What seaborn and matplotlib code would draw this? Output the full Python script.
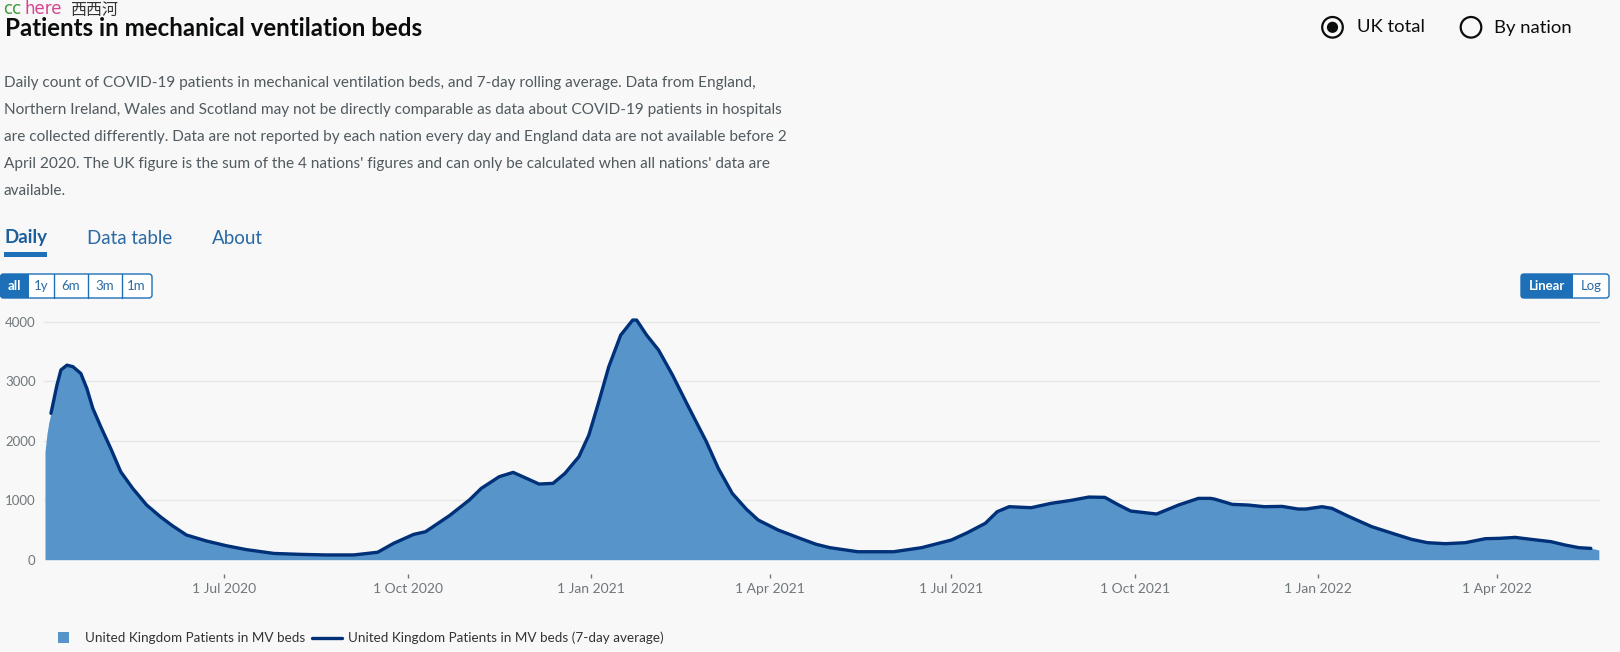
import matplotlib
matplotlib.use("Agg")
import matplotlib.pyplot as plt
from matplotlib.patches import Circle, Rectangle, FancyBboxPatch
from matplotlib.lines import Line2D
import seaborn as sns
import pandas as pd

# ---------------- data ----------------
avg_dates = [
    "2020-04-05", "2020-04-08", "2020-04-10", "2020-04-13", "2020-04-16", "2020-04-20",
    "2020-04-23", "2020-04-26", "2020-04-30", "2020-05-05", "2020-05-10", "2020-05-16",
    "2020-05-23", "2020-05-30", "2020-06-05", "2020-06-12", "2020-06-22", "2020-07-02",
    "2020-07-12", "2020-07-26", "2020-08-08", "2020-08-21", "2020-09-04", "2020-09-16",
    "2020-09-24", "2020-10-04", "2020-10-10", "2020-10-22", "2020-11-01", "2020-11-07",
    "2020-11-16", "2020-11-23", "2020-11-29", "2020-12-06", "2020-12-13", "2020-12-19",
    "2020-12-26", "2020-12-31", "2021-01-05", "2021-01-10", "2021-01-16", "2021-01-22",
    "2021-01-24", "2021-01-29", "2021-02-04", "2021-02-11", "2021-02-19", "2021-02-28",
    "2021-03-06", "2021-03-13", "2021-03-20", "2021-03-26", "2021-04-05", "2021-04-16",
    "2021-04-24", "2021-05-01", "2021-05-15", "2021-06-02", "2021-06-16", "2021-07-01",
    "2021-07-09", "2021-07-18", "2021-07-24", "2021-07-30", "2021-08-10", "2021-08-20",
    "2021-08-30", "2021-09-08", "2021-09-16", "2021-09-23", "2021-09-29", "2021-10-12",
    "2021-10-23", "2021-11-02", "2021-11-08", "2021-11-10", "2021-11-19", "2021-11-27",
    "2021-12-05", "2021-12-14", "2021-12-22", "2021-12-26", "2022-01-03", "2022-01-08",
    "2022-01-16", "2022-01-28", "2022-02-09", "2022-02-17", "2022-02-25", "2022-03-06",
    "2022-03-16", "2022-03-26", "2022-04-02", "2022-04-10", "2022-04-18", "2022-04-28",
    "2022-05-05", "2022-05-12", "2022-05-18",
]
avg_values = [
    2460, 2935, 3190, 3270, 3245, 3130,
    2880, 2545, 2235, 1870, 1480, 1200,
    920, 720, 570, 415, 315, 235,
    170, 105, 90, 80, 80, 125,
    275, 425, 470, 740, 1003, 1199,
    1395, 1468, 1378, 1272, 1283, 1451,
    1731, 2095, 2655, 3244, 3776, 4028,
    4028, 3776, 3524, 3104, 2571, 1983,
    1535, 1115, 852, 667, 499, 359,
    260, 202, 134, 134, 202, 331,
    454, 611, 807, 891, 874, 947,
    997, 1053, 1048, 919, 818, 768,
    919, 1031, 1031, 1020, 930, 919,
    891, 896, 852, 852, 891, 863,
    734, 555, 426, 342, 286, 269,
    286, 353, 359, 375, 342, 303,
    247, 202, 190,
]
daily_head_dates = ["2020-04-02", "2020-04-03", "2020-04-04"]
daily_head_values = [1815, 2120, 2320]
daily_tail_dates = ["2022-05-20", "2022-05-22"]
daily_tail_values = [180, 162]

yticks = [0, 1000, 2000, 3000, 4000]
xtick_dates = ["2020-07-01", "2020-10-01", "2021-01-01", "2021-04-01",
               "2021-07-01", "2021-10-01", "2022-01-01", "2022-04-01"]
xtick_labels = ["1 Jul 2020", "1 Oct 2020", "1 Jan 2021", "1 Apr 2021",
                "1 Jul 2021", "1 Oct 2021", "1 Jan 2022", "1 Apr 2022"]

title = "Patients in mechanical ventilation beds"
desc_lines = [
    "Daily count of COVID-19 patients in mechanical ventilation beds, and 7-day rolling average. Data from England,",
    "Northern Ireland, Wales and Scotland may not be directly comparable as data about COVID-19 patients in hospitals",
    "are collected differently. Data are not reported by each nation every day and England data are not available before 2",
    "April 2020. The UK figure is the sum of the 4 nations' figures and can only be calculated when all nations' data are",
    "available.",
]
legend_labels = ["United Kingdom Patients in MV beds",
                 "United Kingdom Patients in MV beds (7-day average)"]

# ---------------- style ----------------
W, H = 1620, 652
BG = "#f8f8f8"
FILL = "#5694ca"
LINE = "#003078"
BLUE = "#1d70b8"
TXT = "#0b0c0c"
GREY = "#505a5f"
TICK = "#6f777b"

sns.set_theme(style="white")
plt.rcParams['font.family'] = ['Lato', 'Noto Sans CJK SC', 'DejaVu Sans']

avg_df = pd.DataFrame({"date": pd.to_datetime(avg_dates), "value": avg_values})
daily_df = pd.DataFrame({
    "date": pd.to_datetime(daily_head_dates + avg_dates + daily_tail_dates),
    "value": daily_head_values + avg_values + daily_tail_values,
})

fig = plt.figure(figsize=(W / 100, H / 100), dpi=100, facecolor=BG)

y0, ytop = 559.7, 315.8
ax = fig.add_axes([44 / W, (H - y0) / H, (1600 - 44) / W, (y0 - ytop) / H])
ax.set_facecolor(BG)
ax.fill_between(daily_df["date"], daily_df["value"], 0, color=FILL, lw=0, zorder=2)
sns.lineplot(data=avg_df, x="date", y="value", color=LINE, lw=2.4, ax=ax,
             legend=False, zorder=3, solid_joinstyle="round", solid_capstyle="round")
ax.set_xlim(pd.Timestamp("2020-04-01 12:00"), pd.Timestamp("2022-05-22 14:00"))
ax.set_ylim(0, 4100)
ax.set_yticks(yticks)
ax.set_yticklabels([str(v) for v in yticks])
ax.set_xticks(pd.to_datetime(xtick_dates))
ax.set_xticklabels(xtick_labels)
ax.set_xlabel("")
ax.set_ylabel("")
for s in ax.spines.values():
    s.set_visible(False)
ax.spines["bottom"].set_position(("outward", 10))
ax.grid(axis="y", color="#e6e6e6", lw=1)
ax.grid(axis="x", visible=False)
ax.set_axisbelow(True)
ax.tick_params(axis="y", length=0, pad=6, labelsize=9.5, labelcolor=TICK)
ax.tick_params(axis="x", bottom=True, length=3, width=1, color=TICK, pad=3.5,
               labelsize=10, labelcolor=TICK)

# ---------------- overlay in pixel coordinates ----------------
ov = fig.add_axes([0, 0, 1, 1], zorder=5)
ov.set_xlim(0, W)
ov.set_ylim(H, 0)
ov.axis("off")

ov.text(3, 14.5, "cc", color="#3f9a3f", fontsize=12, family="DejaVu Sans", va="baseline")
ov.text(24, 14.5, "here", color="#d6458f", fontsize=12, family="DejaVu Sans", va="baseline")
ov.text(70, 14.5, "西西河", color="#333333", fontsize=11.5, family=["Noto Sans CJK SC"], va="baseline")

ov.text(5, 36.5, title, fontsize=17.4, weight="bold", color=TXT, va="baseline")

for i, line in enumerate(desc_lines):
    ov.text(4, 82.7 + i * 27, line, fontsize=11.1, color=GREY, va="center")

# radio buttons
ov.add_patch(Circle((1332.5, 27.3), 10.3, fill=False, lw=1.6, ec=TXT))
ov.add_patch(Circle((1332.5, 27.3), 5.6, fc=TXT, ec="none"))
ov.text(1357, 27.5, "UK total", fontsize=13.3, color=TXT, va="center")
ov.add_patch(Circle((1471, 27.3), 10.3, fill=False, lw=1.6, ec=TXT))
ov.text(1494, 27.5, "By nation", fontsize=13.3, color=TXT, va="center")

# tabs
ov.text(5, 238, "Daily", fontsize=13.5, weight="bold", color="#1d5f9b", va="center")
ov.add_patch(Rectangle((4, 252), 43, 4.5, fc=BLUE, ec="none"))
ov.text(87, 238, "Data table", fontsize=13.5, color="#2b69a3", va="center")
ov.text(212, 238, "About", fontsize=13.5, color="#2b69a3", va="center")

# range buttons
ov.add_patch(FancyBboxPatch((0.5, 274), 151.5, 24, boxstyle="round,pad=0,rounding_size=3",
                            fc="white", ec=BLUE, lw=1))
ov.add_patch(Rectangle((0.5, 274), 28.5, 24, fc=BLUE, ec="none"))
for xd in [54, 88, 121.5]:
    ov.plot([xd, xd], [274, 298], color=BLUE, lw=1)
ov.text(14.5, 286, "all", fontsize=9.5, weight="bold", color="white", ha="center", va="center")
for xc, lab in zip([41.5, 71, 104.7, 136.6], ["1y", "6m", "3m", "1m"]):
    ov.text(xc, 286, lab, fontsize=9.5, color="#2b69a3", ha="center", va="center")

# linear / log
ov.add_patch(FancyBboxPatch((1521, 274), 88, 24, boxstyle="round,pad=0,rounding_size=3",
                            fc="white", ec=BLUE, lw=1))
ov.add_patch(Rectangle((1521, 274), 52, 24, fc=BLUE, ec="none"))
ov.text(1547, 286, "Linear", fontsize=9.5, weight="bold", color="white", ha="center", va="center")
ov.text(1591, 286, "Log", fontsize=9.5, color="#2b69a3", ha="center", va="center")

# legend
ov.add_patch(Rectangle((58, 632), 11, 11, fc=FILL, ec="none"))
ov.text(85, 637.5, legend_labels[0], fontsize=9.7, color="#333333", va="center")
ov.add_line(Line2D([312, 342], [637.5, 637.5], color=LINE, lw=2.4))
ov.text(348, 637.5, legend_labels[1], fontsize=9.7, color="#333333", va="center")

fig.savefig("out.png", dpi=100, facecolor=BG)
